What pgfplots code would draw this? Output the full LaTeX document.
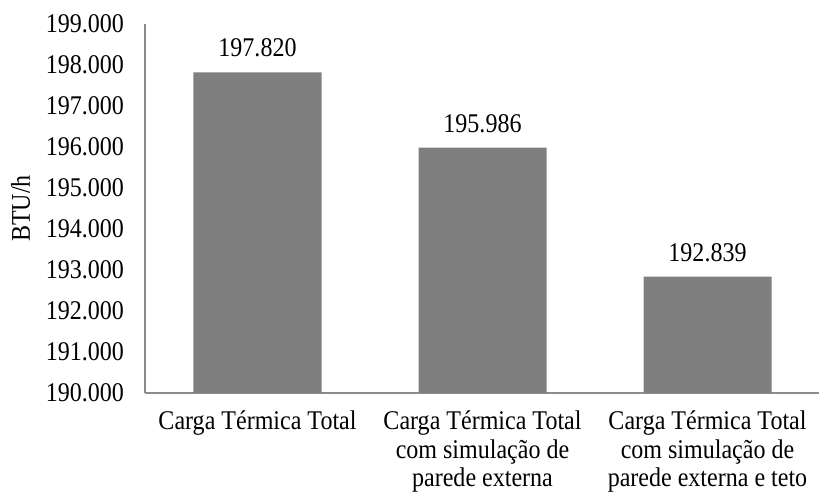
\documentclass[border=0pt]{standalone}
\usepackage{pgfplots}
\pgfplotsset{compat=1.18}
\usepackage{fontspec}
\setmainfont[FakeStretch=0.89]{Liberation Serif}
\definecolor{barc}{RGB}{127,127,127}
\definecolor{axc}{RGB}{140,140,140}
\begin{document}
\begin{tikzpicture}
\begin{axis}[
  name=ax,
  scale only axis,
  width=337.5pt, height=184.5pt,
  xmin=-0.5, xmax=2.5,
  ymin=190, ymax=199,
  ytick={190,191,...,199},
  xtick={0,1,2},
  xticklabels={{Carga Térmica Total},{Carga Térmica Total\\com simulação de\\parede externa},{Carga Térmica Total\\com simulação de\\parede externa e teto}},
  axis x line*=bottom,
  axis y line*=left,
  axis line style={draw=axc, line width=0.8pt, -},
  major tick length=0pt,
  ybar, bar width=64pt,
  font=\fontsize{13.5}{13.6}\selectfont,
  /pgf/number format/assume math mode=true,
  /pgf/number format/fixed,
  /pgf/number format/fixed zerofill,
  /pgf/number format/precision=3,
  /pgf/number format/1000 sep={},
  yticklabel style={xshift=-7pt},
  xticklabel style={align=center, font=\fontsize{13.5}{14.2}\selectfont, yshift=-5.5pt},
  ylabel={BTU/h},
  ylabel style={at={(rel axis cs:0,0.5)}, anchor=base, yshift=57.5pt},
  nodes near coords,
  every node near coord/.append style={yshift=4pt, font=\fontsize{13.5}{13.6}\selectfont},
  enlarge x limits=false,
]
\addplot[fill=barc, draw=none] coordinates {(0,197.820) (1,195.986) (2,192.839)};
\end{axis}
\pgfresetboundingbox
\path[use as bounding box] ([shift={(-72.5pt,-50pt)}]ax.south west) rectangle ([shift={(-0.5pt,12pt)}]ax.north east);
\end{tikzpicture}
\end{document}
